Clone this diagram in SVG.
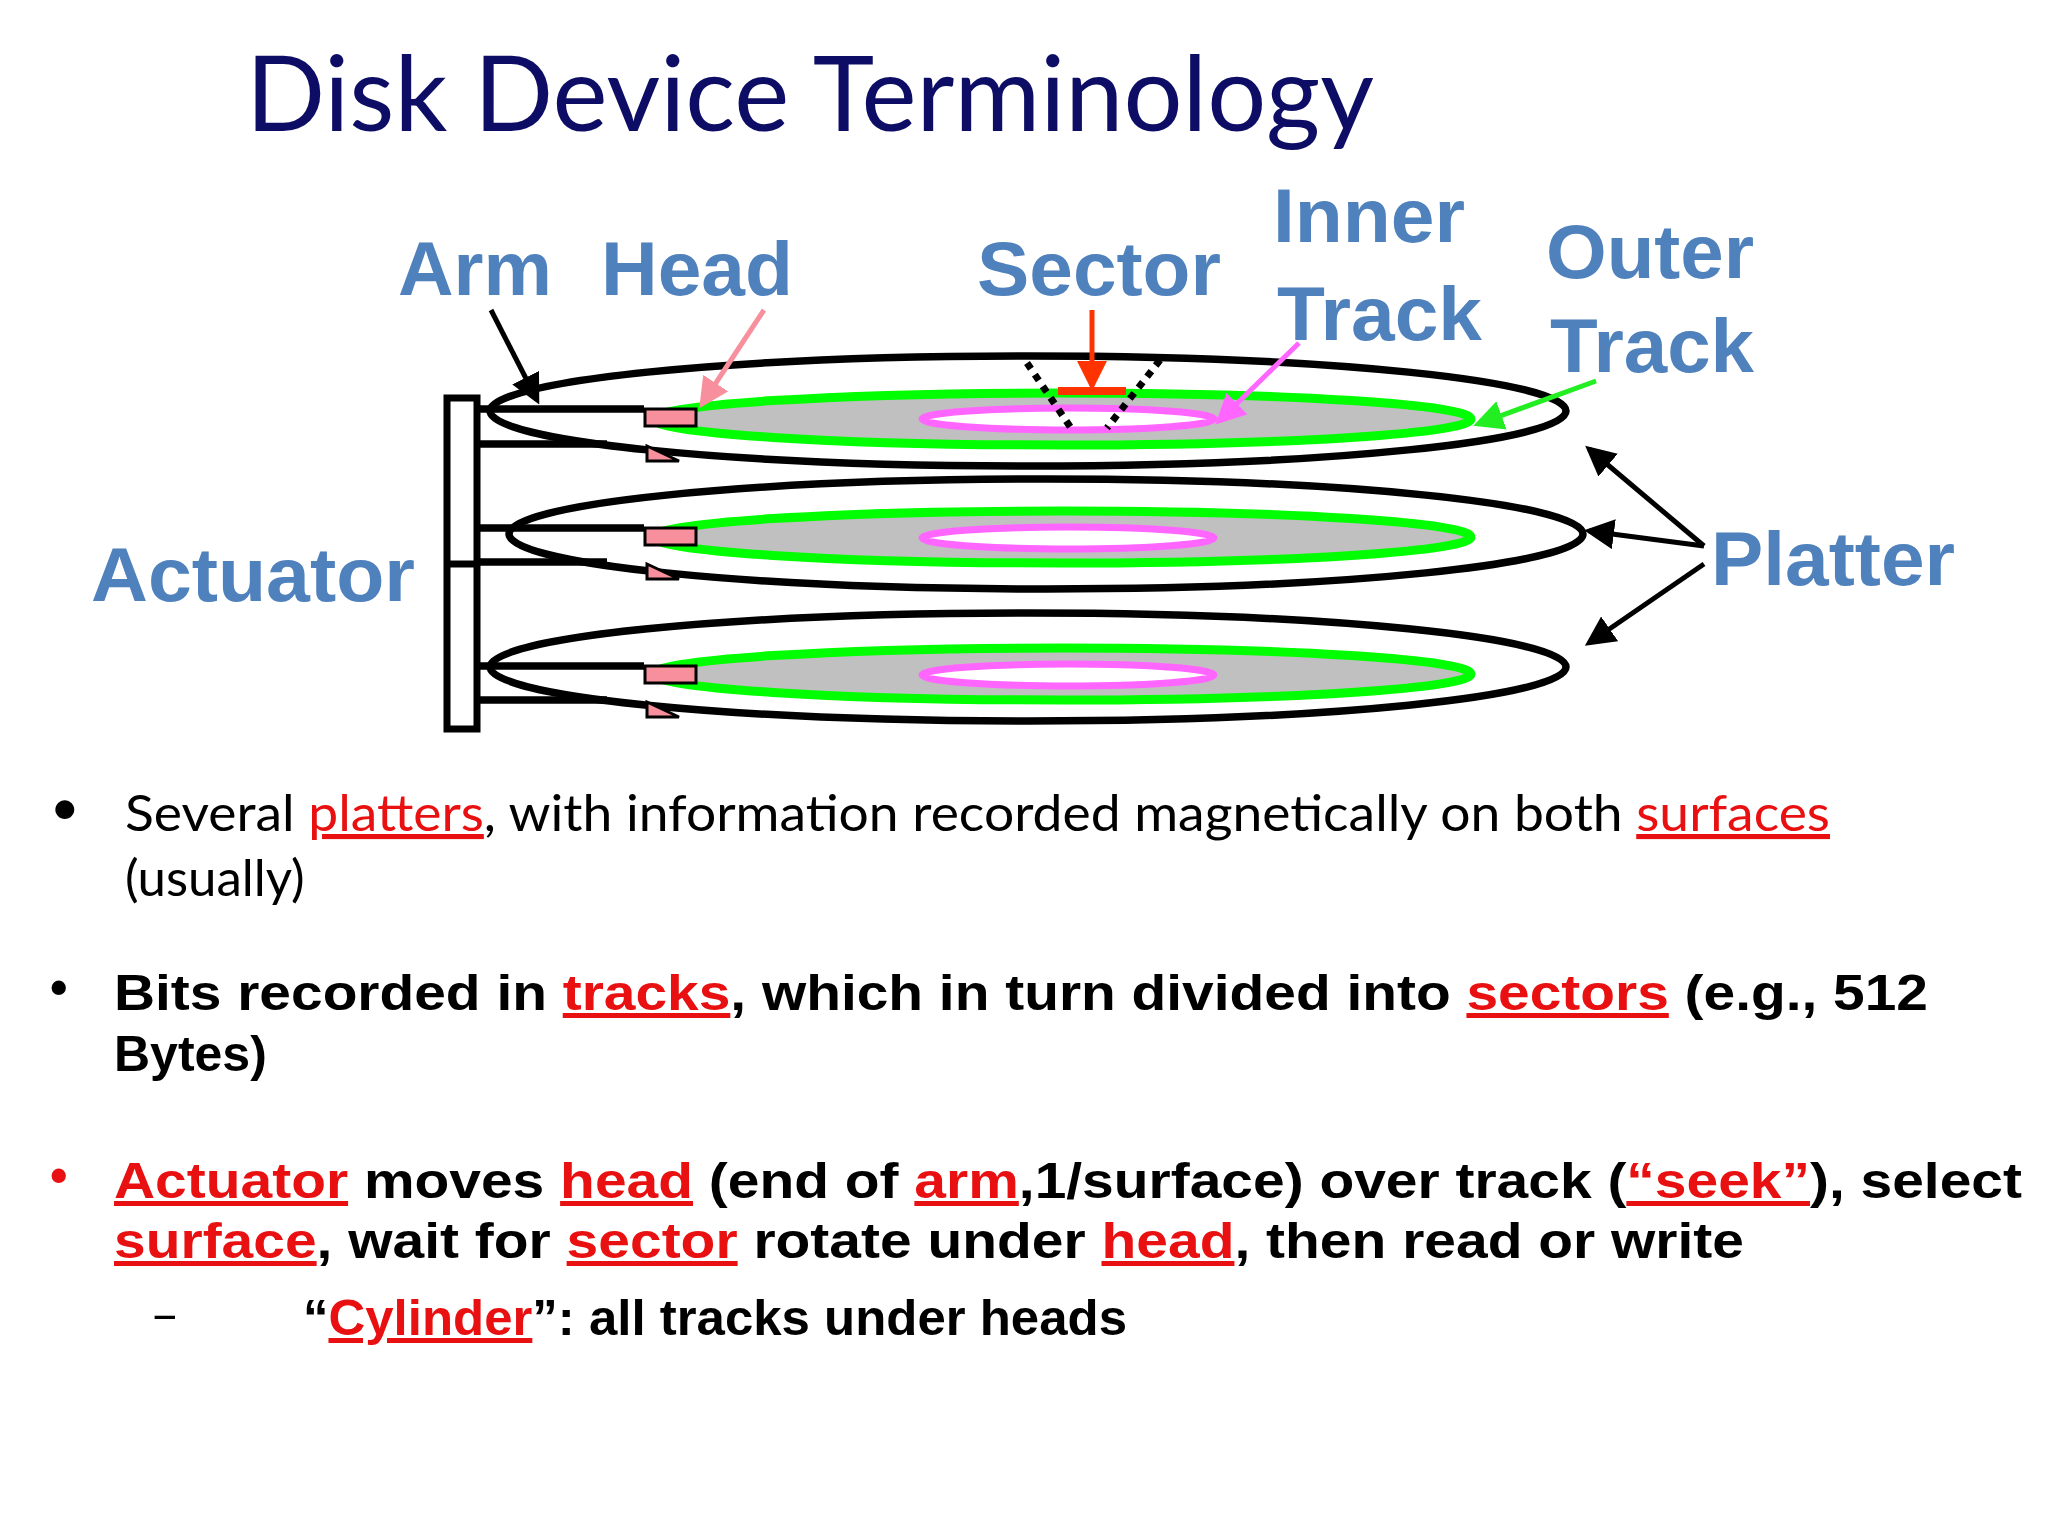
<svg xmlns="http://www.w3.org/2000/svg" width="2048" height="1536" viewBox="0 0 2048 1536">
<style>
.lbl{font-family:"Liberation Sans",Arial,sans-serif;font-weight:bold;font-size:76px;fill:#4f81bd}
.b1{font-family:Lato,"Open Sans",sans-serif;font-size:51px;fill:#000}
.b2{font-family:"Liberation Sans",Arial,sans-serif;font-weight:bold;font-size:50px;fill:#000}
.r{fill:#e81010;text-decoration:underline}
.plat{fill:#fff;stroke:#000;stroke-width:7.5}
.trk{fill:#c0c0c0;stroke:#00ff00;stroke-width:9}
.inr{fill:#fff;stroke:#ff66ff;stroke-width:7}
.arm{stroke:#000;stroke-width:7.5;fill:none}
.hd{fill:#f7909c;stroke:#000;stroke-width:3}
</style>
<defs>
<marker id="ab" markerWidth="6" markerHeight="6" refX="5" refY="3" orient="auto" markerUnits="strokeWidth"><path d="M0,0L6,3L0,6z" fill="#000"/></marker>
<marker id="ap" markerWidth="6" markerHeight="6" refX="5" refY="3" orient="auto" markerUnits="strokeWidth"><path d="M0,0L6,3L0,6z" fill="#f7909c"/></marker>
<marker id="am" markerWidth="6" markerHeight="6" refX="5" refY="3" orient="auto" markerUnits="strokeWidth"><path d="M0,0L6,3L0,6z" fill="#ff66ff"/></marker>
<marker id="ag" markerWidth="6" markerHeight="6" refX="5" refY="3" orient="auto" markerUnits="strokeWidth"><path d="M0,0L6,3L0,6z" fill="#22ee22"/></marker>
<marker id="ar" markerWidth="6" markerHeight="6" refX="5" refY="3" orient="auto" markerUnits="strokeWidth"><path d="M0,0L6,3L0,6z" fill="#ff3300"/></marker>
</defs>
<rect width="2048" height="1536" fill="#fff"/>
<text x="246" y="131" font-family="Lato,'Open Sans',sans-serif" font-size="104" fill="#0d0d66" textLength="1128" lengthAdjust="spacingAndGlyphs">Disk Device Terminology</text>

<g id="platter3">
<ellipse class="plat" cx="1028" cy="667" rx="538" ry="54"/>
<ellipse class="trk" cx="1062" cy="674" rx="409" ry="26"/>
<ellipse class="inr" cx="1068" cy="675" rx="146" ry="11"/>
</g>
<g id="platter2">
<ellipse class="plat" cx="1046" cy="534" rx="537" ry="55"/>
<ellipse class="trk" cx="1062" cy="537" rx="409" ry="26"/>
<ellipse class="inr" cx="1068" cy="538" rx="146" ry="11"/>
</g>
<g id="platter1">
<ellipse class="plat" cx="1028" cy="411" rx="538" ry="55"/>
<ellipse class="trk" cx="1062" cy="419" rx="409" ry="26"/>
<ellipse class="inr" cx="1068" cy="419" rx="146" ry="11"/>
</g>

<g id="actuator">
<rect x="447" y="398" width="30" height="331" fill="#fff" stroke="#000" stroke-width="7"/>
<line x1="447" y1="564" x2="477" y2="564" stroke="#000" stroke-width="7"/>
</g>
<g id="arms">
<path class="arm" d="M477,409H644M477,444H607M477,528H644M477,562H607M477,666H644M477,700H607"/>
</g>
<g id="heads">
<rect class="hd" x="645" y="409" width="51" height="17"/>
<path class="hd" d="M647,446V461H679z"/>
<rect class="hd" x="645" y="528" width="51" height="17"/>
<path class="hd" d="M647,564V579H679z"/>
<rect class="hd" x="645" y="666" width="51" height="17"/>
<path class="hd" d="M647,702V717H679z"/>
</g>
<g id="sector">
<line x1="1027" y1="363" x2="1071" y2="428" stroke="#000" stroke-width="7" stroke-dasharray="7 7"/>
<line x1="1160" y1="360" x2="1107" y2="428" stroke="#000" stroke-width="7" stroke-dasharray="7 7"/>
<line x1="1058" y1="391" x2="1126" y2="391" stroke="#ff3300" stroke-width="8"/>
</g>

<g id="connectors">
<line x1="1092" y1="310" x2="1092" y2="386" stroke="#ff3300" stroke-width="5" marker-end="url(#ar)"/>
<line x1="491" y1="310" x2="537" y2="400" stroke="#000" stroke-width="5" marker-end="url(#ab)"/>
<line x1="764" y1="310" x2="702" y2="404" stroke="#f7909c" stroke-width="5" marker-end="url(#ap)"/>
<line x1="1299" y1="343" x2="1219" y2="421" stroke="#ff66ff" stroke-width="5" marker-end="url(#am)"/>
<line x1="1596" y1="381" x2="1478" y2="424" stroke="#22ee22" stroke-width="5" marker-end="url(#ag)"/>
<line x1="1704" y1="546" x2="1589" y2="449" stroke="#000" stroke-width="5" marker-end="url(#ab)"/>
<line x1="1704" y1="546" x2="1589" y2="531" stroke="#000" stroke-width="5" marker-end="url(#ab)"/>
<line x1="1704" y1="564" x2="1589" y2="643" stroke="#000" stroke-width="5" marker-end="url(#ab)"/>
</g>

<g id="labels">
<text class="lbl" x="398" y="295" textLength="154" lengthAdjust="spacingAndGlyphs">Arm</text>
<text class="lbl" x="601" y="295" textLength="192" lengthAdjust="spacingAndGlyphs">Head</text>
<text class="lbl" x="977" y="295" textLength="244" lengthAdjust="spacingAndGlyphs">Sector</text>
<text class="lbl" x="1273" y="242" textLength="192" lengthAdjust="spacingAndGlyphs">Inner</text>
<text class="lbl" x="1277" y="340" textLength="205" lengthAdjust="spacingAndGlyphs">Track</text>
<text class="lbl" x="1546" y="278" textLength="208" lengthAdjust="spacingAndGlyphs">Outer</text>
<text class="lbl" x="1550" y="372" textLength="204" lengthAdjust="spacingAndGlyphs">Track</text>
<text class="lbl" x="1711" y="585" textLength="244" lengthAdjust="spacingAndGlyphs">Platter</text>
<text class="lbl" x="91" y="601" textLength="324" lengthAdjust="spacingAndGlyphs">Actuator</text>
</g>

<g id="bullets">
<text class="b1" x="50" y="825" font-size="40">•</text>
<text class="b1" x="125" y="831" textLength="1705" lengthAdjust="spacingAndGlyphs">Several <tspan class="r">platters</tspan>, with information recorded magnetically on both <tspan class="r">surfaces</tspan></text>
<text class="b1" x="125" y="896">(usually)</text>
<text class="b2" x="50" y="1004">•</text>
<text class="b2" x="114" y="1010" textLength="1814" lengthAdjust="spacingAndGlyphs">Bits recorded in <tspan class="r">tracks</tspan>, which in turn divided into <tspan class="r">sectors</tspan> (e.g., 512</text>
<text class="b2" x="114" y="1071">Bytes)</text>
<text class="b2" x="50" y="1192" style="fill:#e81010">•</text>
<text class="b2" x="114" y="1198" textLength="1908" lengthAdjust="spacingAndGlyphs"><tspan class="r">Actuator</tspan> moves <tspan class="r">head</tspan> (end of <tspan class="r">arm</tspan>,1/surface) over track (<tspan class="r">“seek”</tspan>), select</text>
<text class="b2" x="114" y="1258" textLength="1630" lengthAdjust="spacingAndGlyphs"><tspan class="r">surface</tspan>, wait for <tspan class="r">sector</tspan> rotate under <tspan class="r">head</tspan>, then read or write</text>
<text class="b1" x="150" y="1332" font-size="44">–</text>
<text class="b2" x="303" y="1335" font-size="45" textLength="824" lengthAdjust="spacingAndGlyphs">“<tspan class="r">Cylinder</tspan>”: all tracks under heads</text>
</g>
</svg>
